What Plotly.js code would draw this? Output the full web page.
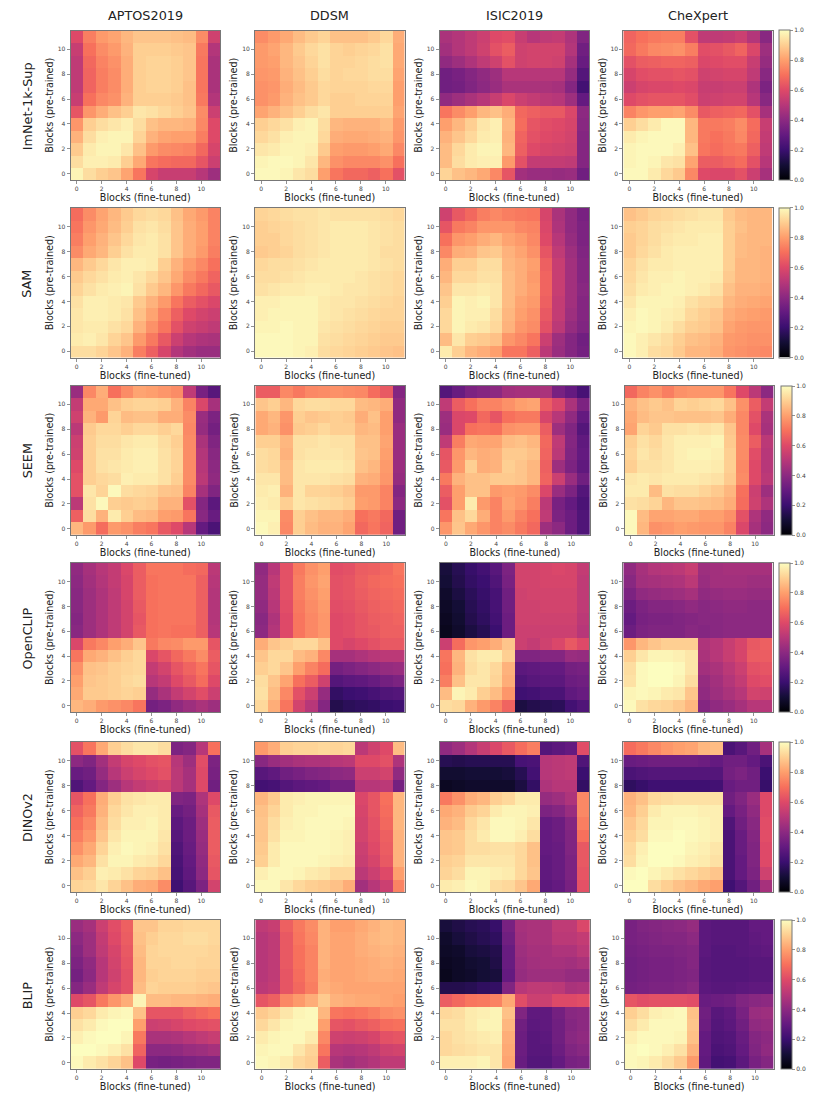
<!DOCTYPE html>
<html><head><meta charset="utf-8">
<script src="https://cdn.plot.ly/plotly-3.0.1.min.js"></script>
<style>html,body{margin:0;padding:0;background:#fff}
#chart .heatmaplayer image{filter:blur(0.5px)}</style></head>
<body><div id="chart" style="width:830px;height:1104px"></div>
<script>
// Each matrix: rows from block 11 (top) down to block 0, values in hundredths of similarity.
const imnet_aptos=[[60,73,79,81,85,88,88,88,87,86,76,56],[54,70,76,79,84,90,90,90,89,88,72,49],[52,68,74,77,83,90,91,91,90,88,71,47],[52,67,73,76,83,90,91,91,90,88,71,47],[52,67,73,76,83,90,91,91,90,87,71,47],[54,70,75,77,84,90,90,90,89,87,72,49],[63,78,83,87,90,95,94,92,90,88,76,55],[78,90,93,95,97,93,87,85,85,84,75,60],[84,93,97,98,98,91,84,81,80,80,73,60],[89,96,98,98,95,87,79,76,75,74,68,58],[93,97,97,96,90,82,71,69,68,68,63,55],[98,93,90,88,81,71,58,54,54,54,50,44]];
const imnet_ddsm=[[76,79,82,86,89,91,87,87,87,89,92,83],[79,81,85,89,92,94,91,90,91,92,94,82],[79,80,85,88,91,94,91,91,92,93,94,82],[78,79,84,87,90,93,91,92,92,93,93,81],[77,78,83,86,89,92,91,91,91,92,92,80],[77,79,84,87,89,92,90,90,91,91,91,80],[81,84,87,90,93,95,90,90,90,90,90,81],[90,92,94,97,98,93,85,84,84,84,86,79],[92,94,97,98,98,92,83,82,82,83,84,78],[95,96,98,98,97,89,80,79,79,80,82,75],[98,99,99,98,95,85,77,75,75,75,77,70],[99,99,98,95,93,80,71,68,68,66,70,62]];
const imnet_isic=[[47,49,52,55,60,61,54,50,52,53,48,37],[45,49,52,56,62,65,56,57,57,57,49,33],[41,44,48,52,56,62,56,57,57,56,46,31],[33,35,38,41,44,50,50,50,50,50,42,26],[33,34,37,40,43,47,47,47,47,46,38,22],[41,44,47,50,54,59,55,53,51,50,44,30],[71,76,80,85,87,83,68,66,64,64,59,40],[80,85,90,95,97,85,69,63,61,60,58,39],[84,88,92,96,97,84,67,62,60,59,57,38],[86,92,96,98,98,85,66,60,58,57,56,38],[86,93,96,97,97,79,62,53,53,53,52,38],[91,87,85,82,75,63,45,43,43,42,43,33]];
const imnet_chex=[[67,70,72,73,73,62,52,52,53,55,49,39],[68,72,75,76,77,73,61,62,64,67,59,44],[62,65,66,67,67,66,59,60,61,61,54,42],[58,61,62,62,63,62,56,57,58,58,52,39],[55,58,59,59,60,59,54,54,55,55,48,36],[60,62,63,63,63,61,55,56,57,57,50,39],[74,78,80,80,81,76,64,66,67,68,62,46],[90,93,96,99,99,85,72,72,73,76,69,54],[96,98,99,99,99,85,72,70,72,75,68,53],[98,99,99,99,97,87,71,69,71,72,66,52],[98,99,98,95,94,81,65,65,67,69,62,50],[99,99,96,92,89,75,60,59,59,62,55,46]];
const sam_aptos=[[69,76,81,85,89,92,93,92,87,82,79,74],[71,78,82,86,90,94,95,93,88,83,80,74],[73,80,84,88,92,95,96,94,88,83,80,74],[76,82,85,90,94,96,96,94,88,83,79,73],[85,89,92,95,97,97,96,90,84,79,75,70],[89,92,94,96,97,95,92,88,82,76,72,67],[91,94,96,97,98,94,89,85,78,72,68,64],[94,97,97,96,95,89,84,79,71,65,62,59],[95,97,97,96,94,87,81,74,66,60,57,55],[95,96,96,94,92,84,77,71,62,56,54,52],[96,97,95,91,88,79,72,64,55,50,48,47],[93,93,91,88,84,73,66,58,49,45,43,43]];
const sam_ddsm=[[91,92,93,94,94,95,94,94,94,94,93,92],[90,91,92,93,94,95,96,96,96,95,94,93],[90,90,92,93,94,95,96,96,96,95,94,93],[89,90,91,93,94,95,96,96,96,95,93,93],[92,93,93,94,95,96,96,96,96,95,94,93],[93,93,94,95,96,96,96,96,95,94,93,92],[94,95,96,96,97,97,96,95,95,94,93,92],[97,97,98,98,98,96,95,95,94,93,92,91],[97,98,98,98,98,96,95,94,93,92,91,91],[98,98,99,98,98,95,94,93,92,91,90,90],[99,99,99,98,98,94,93,92,91,90,89,89],[99,99,99,98,97,93,92,91,90,89,88,87]];
const sam_isic=[[56,64,68,73,75,73,72,71,58,47,41,35],[63,72,74,78,78,78,75,74,59,48,41,36],[70,78,80,83,85,81,79,75,60,50,42,36],[75,83,84,88,89,84,81,77,63,52,44,37],[83,90,90,93,93,85,83,80,66,54,45,38],[85,92,92,94,94,86,83,79,67,54,45,38],[88,95,95,96,95,86,83,80,67,54,45,39],[90,98,97,98,95,86,81,79,66,53,45,38],[92,98,97,97,93,85,80,77,64,53,44,38],[92,98,96,95,92,84,78,76,62,51,42,37],[86,95,90,89,87,78,75,71,55,44,38,33],[96,90,85,83,80,71,71,66,51,43,38,34]];
const sam_chex=[[87,89,91,92,93,94,95,95,89,86,85,85],[90,91,93,94,95,96,96,96,90,87,85,85],[89,91,93,95,96,96,97,97,90,86,85,85],[89,92,94,96,97,97,97,97,90,86,85,84],[91,94,96,96,97,97,97,97,90,85,85,84],[92,95,97,97,98,97,97,96,89,85,85,84],[93,96,97,98,98,97,96,94,87,84,84,83],[95,98,98,98,97,94,92,91,85,83,82,81],[97,99,98,97,96,92,90,88,83,81,80,79],[98,99,98,96,93,90,89,87,81,79,78,78],[99,97,95,93,90,87,86,84,79,78,77,77],[99,97,93,92,89,85,85,83,78,77,76,75]];
const seem_aptos=[[43,75,83,70,76,81,80,78,76,52,35,27],[53,82,82,87,90,91,91,90,84,74,59,46],[56,84,79,91,86,87,87,83,83,76,43,36],[51,89,92,92,90,92,92,90,92,75,42,34],[55,90,93,93,95,96,96,93,90,76,47,37],[56,90,94,94,96,97,97,94,91,76,49,39],[60,90,94,95,96,97,97,94,91,76,50,40],[62,90,92,93,97,96,96,94,90,76,51,41],[62,95,91,99,93,92,91,88,87,74,46,37],[51,94,99,90,89,90,89,84,84,62,38,28],[66,93,84,96,90,86,85,80,79,71,39,31],[85,79,69,79,77,73,71,64,60,50,30,24]];
const seem_ddsm=[[65,65,75,72,75,76,77,76,75,69,64,38],[88,90,85,92,93,93,92,92,86,85,83,41],[82,85,78,90,88,89,90,89,83,87,80,41],[82,84,77,89,90,92,90,90,85,86,80,43],[90,90,85,94,94,95,94,94,87,87,81,43],[93,92,84,94,95,95,95,94,88,87,80,43],[93,92,86,95,96,96,96,95,87,85,79,43],[95,95,86,95,95,95,94,93,84,83,78,42],[96,97,84,95,91,91,90,88,79,79,74,38],[97,96,90,95,94,93,92,90,80,79,74,40],[98,98,76,90,87,85,85,83,70,72,68,33],[99,97,75,90,86,84,84,81,68,71,67,33]];
const seem_isic=[[26,31,36,38,40,45,46,46,47,35,30,23],[52,65,70,74,74,77,80,81,65,59,47,36],[44,59,60,68,63,70,72,72,58,50,41,30],[43,59,70,71,70,77,78,78,65,44,37,26],[52,73,82,81,81,86,87,85,68,52,38,29],[63,78,85,83,84,89,89,87,67,51,37,30],[64,79,90,83,84,90,88,85,66,44,36,29],[72,84,87,87,89,89,88,85,67,55,43,33],[65,80,87,87,79,80,79,76,59,43,36,26],[62,80,96,79,74,81,78,73,51,35,30,24],[71,87,92,83,74,79,74,70,52,36,32,25],[78,88,82,78,74,76,72,68,44,40,32,25]];
const seem_chex=[[68,74,77,73,77,78,78,78,71,60,51,40],[84,87,89,87,91,90,91,92,87,77,65,53],[82,86,88,88,87,87,87,88,83,75,62,47],[81,91,89,94,94,95,94,95,88,75,60,46],[90,94,92,95,97,97,97,98,89,76,65,51],[91,95,93,95,97,98,98,97,90,76,61,50],[90,94,94,95,97,97,97,96,90,75,60,50],[95,96,95,96,96,96,95,94,89,76,60,51],[96,96,86,94,93,93,91,89,85,70,55,44],[94,93,91,85,88,88,87,86,83,69,56,48],[99,86,81,81,82,82,80,80,77,62,48,41],[99,85,77,78,80,79,78,78,74,59,46,40]];
const clip_aptos=[[41,46,50,53,59,65,71,71,71,69,68,51],[40,45,49,53,58,65,70,71,71,71,66,50],[39,44,48,52,58,65,70,71,71,71,66,49],[39,44,48,52,57,64,70,71,71,71,66,49],[38,44,48,52,57,63,70,71,71,71,66,49],[39,44,48,52,57,64,70,71,70,70,66,50],[59,72,75,80,83,88,72,75,76,79,79,63],[71,82,84,87,90,92,59,63,68,72,76,65],[77,87,88,90,91,92,53,57,63,67,71,63],[80,88,89,90,92,93,50,53,60,64,69,60],[82,89,89,90,91,90,42,47,53,57,61,55],[85,83,79,77,75,71,34,36,41,44,47,44]];
const clip_ddsm=[[41,50,62,72,77,80,61,62,65,66,68,71],[42,52,62,73,78,81,62,63,66,68,69,70],[42,51,62,73,77,80,62,63,65,67,68,69],[41,50,61,72,76,79,61,62,64,66,67,68],[39,48,60,71,75,78,60,61,63,65,66,67],[40,49,60,71,75,78,60,61,63,64,66,66],[83,88,90,92,92,87,60,58,60,62,64,64],[88,92,92,86,84,75,46,46,48,50,51,51],[90,92,88,80,74,69,34,36,38,40,42,43],[93,88,81,70,65,56,26,28,29,31,34,36],[94,86,75,62,55,42,18,20,21,23,25,26],[92,83,71,57,50,38,14,16,17,18,20,21]];
const clip_isic=[[11,15,19,22,27,36,57,57,58,59,58,53],[10,14,18,20,25,35,57,57,58,58,58,52],[8,12,16,19,23,33,56,57,57,57,57,52],[7,10,15,18,23,33,56,56,57,57,57,52],[6,9,14,17,22,32,56,56,56,56,56,51],[5,8,12,15,20,32,55,55,55,55,55,50],[55,69,78,80,83,88,55,53,56,59,64,60],[71,85,94,96,96,90,37,37,38,38,43,42],[70,84,93,95,92,84,28,29,30,30,34,35],[73,87,95,95,91,83,25,27,28,28,32,33],[86,98,96,90,86,78,21,22,24,24,29,31],[93,92,84,79,74,67,12,14,15,16,22,25]];
const clip_chex=[[41,46,49,50,51,54,44,45,46,46,46,46],[39,45,46,47,48,51,43,45,45,45,44,44],[36,41,42,43,44,46,41,42,43,43,42,42],[32,36,38,38,39,41,39,40,41,41,40,40],[30,35,36,36,37,38,39,39,40,40,40,40],[32,36,37,37,37,39,38,39,40,40,40,40],[78,85,88,90,90,90,48,50,54,58,64,66],[90,95,98,98,97,95,47,50,54,58,65,65],[93,99,100,100,99,95,45,47,51,55,62,63],[94,99,100,100,98,93,42,45,49,53,60,61],[98,99,98,96,95,88,41,44,47,50,57,56],[99,94,92,91,89,85,38,41,43,46,50,50]];
const dino_aptos=[[62,71,82,90,93,95,95,93,36,38,50,70],[40,37,45,53,58,60,62,63,50,44,61,36],[31,33,42,50,55,58,60,62,51,46,60,35],[25,30,38,44,50,53,55,57,51,46,60,33],[63,70,83,90,94,95,96,96,37,36,48,60],[67,72,84,92,95,97,97,96,31,34,46,64],[70,75,86,93,97,97,98,96,28,32,44,65],[73,78,88,95,98,98,98,95,27,32,43,65],[77,82,91,97,99,98,97,94,25,31,42,65],[82,85,94,98,98,96,95,92,24,30,41,64],[87,90,97,96,94,91,90,87,23,29,40,63],[91,92,95,91,87,83,82,76,21,27,36,57]];
const dino_ddsm=[[79,83,90,91,91,92,91,92,51,56,60,86],[39,43,45,47,48,48,50,51,60,60,62,48],[27,29,33,35,37,38,40,41,55,55,57,41],[22,23,26,28,29,30,34,34,50,50,51,34],[85,89,96,97,98,98,98,98,59,63,70,85],[87,91,96,98,98,99,99,99,58,63,69,85],[88,93,97,98,99,99,99,98,57,62,68,85],[88,94,98,98,99,99,98,97,57,61,66,84],[89,96,99,99,99,99,98,97,55,60,65,84],[90,96,99,99,99,98,97,96,54,58,64,84],[97,99,99,98,96,95,92,92,51,55,60,80],[99,99,95,92,90,89,87,83,45,50,55,74]];
const dino_isic=[[41,44,49,54,59,64,69,73,26,28,30,61],[15,14,15,15,15,15,23,24,50,51,52,25],[9,9,10,10,10,11,15,22,50,51,52,20],[6,7,8,8,8,8,12,18,48,50,50,18],[72,77,83,85,90,92,96,96,42,44,48,75],[82,84,89,91,96,98,98,97,36,38,43,75],[84,86,92,95,99,99,98,95,30,32,38,73],[88,89,93,96,99,99,97,93,30,32,37,70],[88,89,93,93,94,94,92,87,30,31,37,64],[90,91,95,95,95,95,92,87,29,31,36,64],[91,93,98,98,97,96,92,88,29,31,36,63],[96,97,99,98,93,92,88,82,28,30,35,62]];
const dino_chex=[[69,72,75,78,80,81,85,86,24,27,33,46],[31,32,33,33,33,33,32,30,33,33,30,24],[24,25,26,26,26,26,26,26,34,36,33,20],[17,19,21,21,21,21,21,22,31,33,33,19],[84,87,92,93,94,94,94,94,33,37,43,60],[85,90,96,98,98,98,97,97,30,35,41,60],[88,92,98,98,99,99,98,97,25,33,39,61],[90,93,99,99,100,99,98,97,24,31,38,61],[92,97,100,100,100,98,97,95,24,31,37,60],[93,98,100,100,99,97,96,94,24,30,37,60],[99,100,98,96,94,92,90,88,24,30,36,56],[100,100,93,90,87,85,82,80,21,26,33,46]];
const blip_aptos=[[43,46,55,61,66,88,88,91,91,92,92,92],[40,44,53,60,65,87,90,92,92,93,93,92],[38,44,52,58,64,86,91,92,92,92,92,91],[36,41,50,57,63,85,91,91,92,92,91,91],[34,40,50,56,62,85,90,91,91,91,90,90],[38,43,52,58,62,86,91,90,90,90,89,88],[60,63,72,78,83,98,86,86,85,85,84,83],[90,92,96,98,99,87,63,63,63,66,68,70],[94,96,99,100,100,80,55,56,58,60,61,62],[97,99,100,100,98,72,47,47,48,50,52,54],[100,100,99,97,94,67,40,40,41,43,44,46],[99,96,94,91,87,60,35,34,35,36,37,37]];
const blip_ddsm=[[52,54,66,72,76,84,80,80,82,84,86,85],[50,52,64,71,75,84,81,81,83,85,86,85],[50,52,64,70,74,84,81,81,83,84,85,84],[50,52,64,70,74,84,81,81,82,83,84,83],[50,52,63,69,74,83,81,81,82,83,83,82],[51,53,63,68,73,84,82,81,81,81,81,81],[63,66,75,79,83,89,84,83,82,82,81,80],[89,91,95,98,99,85,71,70,71,73,76,77],[92,95,98,99,99,80,63,62,64,66,69,70],[96,98,99,99,96,75,56,55,56,58,62,63],[98,99,99,95,91,71,50,49,50,52,56,57],[99,98,96,92,90,65,47,45,47,49,52,52]];
const blip_isic=[[11,13,15,16,19,35,46,47,47,52,52,59],[8,11,13,15,17,33,45,47,47,51,51,53],[7,8,11,12,14,31,44,46,46,48,48,51],[6,7,9,10,13,31,43,45,46,46,45,47],[5,7,8,10,11,30,42,44,44,44,42,42],[14,14,15,17,18,37,50,52,52,51,47,48],[65,68,71,72,74,82,61,55,55,60,60,61],[92,93,96,97,98,87,37,29,29,34,39,40],[94,94,96,98,98,85,33,28,29,33,38,40],[92,94,95,96,97,83,32,27,28,33,39,41],[92,93,94,95,95,82,32,27,27,32,37,39],[97,97,97,98,95,81,31,26,26,30,35,36]];
const blip_chex=[[35,37,38,39,40,42,28,27,27,27,30,30],[35,36,37,38,38,40,28,27,27,27,29,30],[34,35,36,36,37,38,28,26,26,27,28,29],[33,34,35,35,36,38,27,26,26,26,27,27],[33,34,35,35,36,37,27,26,26,26,27,27],[34,35,36,36,37,39,28,27,27,28,29,29],[63,61,62,62,62,61,31,32,33,37,39,40],[90,93,97,98,99,87,33,27,29,35,43,44],[93,96,99,99,99,88,32,26,28,33,41,42],[97,99,99,99,98,87,30,25,26,31,38,40],[99,100,99,97,94,84,30,24,25,30,37,41],[99,98,96,93,89,79,29,22,23,28,35,38]];

const datasets=["APTOS2019","DDSM","ISIC2019","CheXpert"];
const models=["ImNet-1k-Sup","SAM","SEEM","OpenCLIP","DINOv2","BLIP"];
const panels=[[imnet_aptos,imnet_ddsm,imnet_isic,imnet_chex],[sam_aptos,sam_ddsm,sam_isic,sam_chex],[seem_aptos,seem_ddsm,seem_isic,seem_chex],[clip_aptos,clip_ddsm,clip_isic,clip_chex],[dino_aptos,dino_ddsm,dino_isic,dino_chex],[blip_aptos,blip_ddsm,blip_isic,blip_chex]];
const blocks=[0,1,2,3,4,5,6,7,8,9,10,11];
const tickVals=[0,2,4,6,8,10];
const magma=[[0,"#000004"],[0.1,"#140e36"],[0.2,"#3b0f70"],[0.3,"#641a80"],[0.4,"#8c2981"],[0.5,"#b73779"],[0.6,"#de4968"],[0.7,"#f7705c"],[0.8,"#fe9f6d"],[0.9,"#fecf92"],[1,"#fcfdbf"]];

const W=830,H=1104;
// Pixel geometry of the panels: [top, bottom] per row, [left, right] per column per row.
const rowsY=[[30.5,180],[208,357.5],[385.7,535],[563,712],[742,892],[919.7,1069]];
const colsStd=[[70.5,220],[255,404.5],[439.5,589],[623.3,772.5]];
const colsWide=[[70.5,220],[255.3,405],[439.7,590],[624.5,773.7]];
const rowCols=[colsStd,colsStd,colsWide,colsStd,colsStd,colsWide];
const cbarX=[779,779,780.7,779,779,780.7];
const spine="#777777",txt="#444444",FONT="DejaVu Sans, sans-serif";

const traces=[];const layout={width:W,height:H,margin:{l:0,r:0,t:0,b:0},paper_bgcolor:"#fff",plot_bgcolor:"#fff",font:{family:FONT,color:txt},annotations:[]};
panels.forEach((row,r)=>row.forEach((m,c)=>{
  const n=r*4+c+1,ax=n===1?"":String(n);
  const [x0,x1]=rowCols[r][c],[y0,y1]=rowsY[r];
  const tr={type:"heatmap",x:blocks,y:blocks,z:m.slice().reverse().map(v=>v.map(d=>d/100)),xaxis:"x"+ax,yaxis:"y"+ax,zmin:0,zmax:1,colorscale:magma,showscale:c===3,hovertemplate:"%{z}<extra></extra>"};
  if(c===3)tr.colorbar={x:cbarX[r]/W,xanchor:"left",xpad:0,ypad:0,y:1-y1/H,yanchor:"bottom",lenmode:"pixels",len:y1-y0,thicknessmode:"pixels",thickness:11,outlinecolor:spine,outlinewidth:1,tickvals:[0,0.2,0.4,0.6,0.8,1],ticktext:["0.0","0.2","0.4","0.6","0.8","1.0"],ticks:"outside",ticklen:3,tickwidth:0.8,tickcolor:spine,tickfont:{size:6,color:txt,family:FONT}};
  traces.push(tr);
  const common={range:[-0.5,11.5],tickmode:"array",tickvals:tickVals,ticktext:tickVals.map(String),ticks:"outside",ticklen:3,tickwidth:0.8,tickcolor:spine,showline:true,linecolor:spine,linewidth:1,mirror:true,showgrid:false,zeroline:false,tickfont:{size:6,color:txt,family:FONT},fixedrange:true};
  layout["xaxis"+ax]=Object.assign({},common,{domain:[x0/W,x1/W],anchor:"y"+ax,title:{text:"Blocks (fine-tuned)",font:{size:9.6,color:"#222",family:FONT},standoff:2}});
  layout["yaxis"+ax]=Object.assign({},common,{domain:[1-y1/H,1-y0/H],anchor:"x"+ax,title:{text:"Blocks (pre-trained)",font:{size:9.6,color:"#222",family:FONT},standoff:2}});
}));
datasets.forEach((d,c)=>{const [a,b]=colsStd[c];layout.annotations.push({text:d,xref:"paper",yref:"paper",x:(a+b)/2/W,y:1-16/H,xanchor:"center",yanchor:"middle",showarrow:false,font:{size:12.8,color:"#222",family:FONT}});});
models.forEach((m,r)=>{const [a,b]=rowsY[r];layout.annotations.push({text:m,xref:"paper",yref:"paper",x:27/W,y:1-((a+b)/2+1)/H,xanchor:"center",yanchor:"middle",textangle:-90,showarrow:false,font:{size:12.8,color:"#222",family:FONT}});});
Plotly.newPlot("chart",traces,layout,{displayModeBar:false,staticPlot:true});
</script></body></html>
